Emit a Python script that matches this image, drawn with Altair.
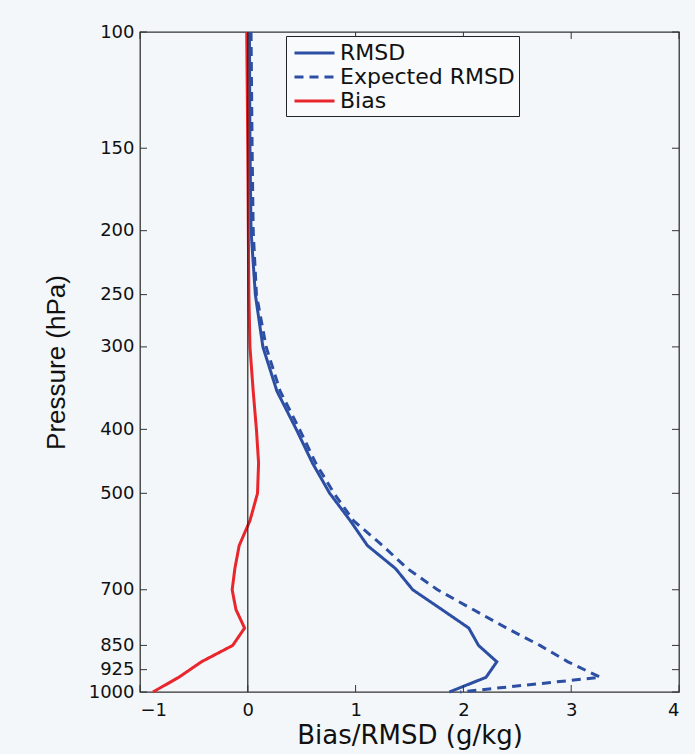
import altair as alt
import pandas as pd

# ---- data ----
pressure = [1000, 950, 900, 850, 800, 750, 700, 650, 600, 550, 500, 450, 400, 350, 300, 250, 200, 150, 100]
rmsd = [1.87, 2.21, 2.31, 2.14, 2.05, 1.80, 1.53, 1.37, 1.11, 0.95, 0.76, 0.60, 0.45, 0.27, 0.14, 0.07, 0.03, 0.02, 0.015]
expected = [1.97, 3.27, 2.97, 2.71, 2.40, 2.09, 1.76, 1.48, 1.25, 0.98, 0.80, 0.63, 0.48, 0.30, 0.17, 0.08, 0.05, 0.04, 0.03]
bias = [-0.88, -0.64, -0.43, -0.14, -0.03, -0.11, -0.145, -0.12, -0.08, 0.02, 0.09, 0.10, 0.08, 0.05, 0.02, 0.01, 0.005, 0.0, -0.01]

series = ["RMSD", "Expected RMSD", "Bias"]
x_ticks = [-1, 0, 1, 2, 3, 4]
y_ticks = [100, 150, 200, 250, 300, 400, 500, 700, 850, 925, 1000]

rows = []
for name, vals in zip(series, [rmsd, expected, bias]):
    for p, v in zip(pressure, vals):
        rows.append({"series": name, "pressure": p, "value": v})
df = pd.DataFrame(rows)
xt_df = pd.DataFrame({"value": x_ticks})
yt_df = pd.DataFrame({"pressure": y_ticks})
zero_df = pd.DataFrame({"value": [0]})

W, H = 539, 660
BLUE = "#2c4ea3"
RED = "#e8262c"
WIDE = "DejaVu Sans"
FONT = "Liberation Sans"

x_scale = alt.Scale(domain=[-1, 4], nice=False, zero=False)
y_scale = alt.Scale(type="log", domain=[100, 1000], reverse=True, nice=False)

x_axis = alt.Axis(
    values=x_ticks, title="Bias/RMSD (g/kg)", ticks=False, domain=False, grid=False,
    labelFontSize=18, labelPadding=9, titleFontSize=26, titlePadding=3,
    format="d", labelColor="#111", titleColor="#111",
    titleFontWeight="normal", labelFont=WIDE, titleFont=WIDE)
y_axis = alt.Axis(
    values=y_ticks, title="Pressure (hPa)", ticks=False, domain=False, grid=False,
    labelFontSize=18, labelPadding=6, titleFontSize=26, titlePadding=19,
    format="d", labelColor="#111", titleColor="#111",
    titleFontWeight="normal", labelFont=WIDE, titleFont=FONT)

legend = alt.Legend(
    title=None, orient="none", legendX=146, legendY=4,
    padding=4, strokeColor="#222", fillColor="#f8fafc",
    labelFontSize=22, labelFont=WIDE, labelColor="#111", labelLimit=400,
    labelExpr="datum.label + '\u00a0\u00a0'",
    symbolType="M-1.74,0H1.74", symbolSize=529, symbolStrokeWidth=3,
    symbolOffset=11.5, labelOffset=12.5, rowPadding=0,
)

X = alt.X("value:Q", scale=x_scale, axis=x_axis)
Y = alt.Y("pressure:Q", scale=y_scale, axis=y_axis)

lines = alt.Chart(df).mark_line(strokeWidth=3).encode(
    x=X, y=Y,
    color=alt.Color("series:N", scale=alt.Scale(domain=series, range=[BLUE, BLUE, RED]), legend=legend),
    strokeDash=alt.StrokeDash("series:N", scale=alt.Scale(domain=series, range=[[1, 0], [9, 6], [1, 0]]), legend=legend),
    order=alt.Order("pressure:Q"),
)

zero = alt.Chart(zero_df).mark_rule(color="#222", strokeWidth=1.2).encode(x=X)

xt_top = alt.Chart(xt_df).mark_rule(color="#333", strokeWidth=1).encode(
    x=X, y=alt.value(0), y2=alt.value(7))
xt_bot = alt.Chart(xt_df).mark_rule(color="#333", strokeWidth=1).encode(
    x=X, y=alt.value(H - 7), y2=alt.value(H))
yt_left = alt.Chart(yt_df).mark_rule(color="#333", strokeWidth=1).encode(
    y=Y, x=alt.value(0), x2=alt.value(7))
yt_right = alt.Chart(yt_df).mark_rule(color="#333", strokeWidth=1).encode(
    y=Y, x=alt.value(W - 7), x2=alt.value(W))

chart = alt.layer(lines, zero, xt_top, xt_bot, yt_left, yt_right).properties(
    width=W, height=H,
    autosize=alt.AutoSizeParams(type="none"),
    padding={"left": 140, "top": 32, "right": 16, "bottom": 62},
    background="#f4f7fa",
).configure_view(
    stroke="#333", strokeWidth=1.3, fill="#f4f7fa"
)

chart.save("out.html", embed_options={"renderer": "svg", "actions": False})
